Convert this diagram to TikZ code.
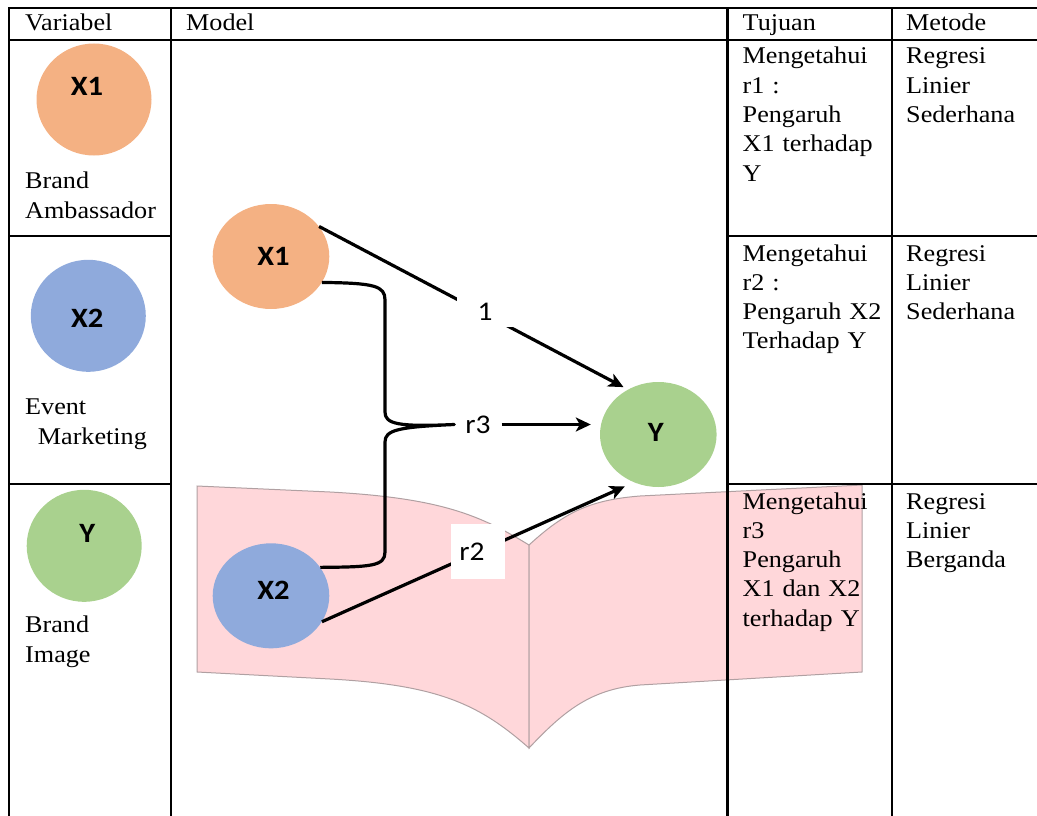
\documentclass[tikz,border=0pt]{standalone}
\usepackage{fontspec}
\setmainfont{Liberation Serif}[FakeStretch=1.09]
\newfontfamily\calib{Carlito}[FakeStretch=1.09]
\usetikzlibrary{shapes.geometric,arrows.meta}
\definecolor{orangeC}{HTML}{F4B183}
\definecolor{blueC}{HTML}{8FAADC}
\definecolor{greenC}{HTML}{A9D18E}
\definecolor{pinkC}{HTML}{FFD7DA}
\definecolor{pinkEdge}{HTML}{B0A0A2}
\begin{document}
\begin{tikzpicture}[x=1pt,y=-1pt,
  tbl/.style={line width=2.3pt, line cap=rect},
  circ/.style={ellipse, minimum width=116.6pt, minimum height=105pt, inner sep=0pt,
    font=\calib\bfseries\fontsize{28}{28}\selectfont},
  vcirc/.style={ellipse, minimum width=115pt, minimum height=112pt, inner sep=0pt},
  clab/.style={font=\calib\bfseries\fontsize{28}{28}\selectfont, inner sep=0pt},
  elab/.style={font=\calib\fontsize{27}{27}\selectfont, fill=white, inner sep=0pt},
  conn/.style={line width=3.2pt, -{Stealth[length=15pt,width=14pt,inset=4pt]}},
  bracestyle/.style={line width=3.2pt, line join=round},
  txt/.style={font=\fontsize{24}{29.3}\selectfont, anchor=base west, inner sep=0pt},
  mtxt/.style={txt, text width=160pt, align=left},
  vtxt/.style={font=\fontsize{24}{30}\selectfont, anchor=base west, inner sep=0pt, text width=150pt, align=left},
  panel/.style={fill=pinkC, draw=pinkEdge, line width=1pt, line join=miter},
]
\useasboundingbox (0,0) rectangle (1037,816);

% pink folded banner
\path[panel] (197,486) -- (330,492) .. controls (440,498) and (480,515) .. (529,545)
  -- (529,748) .. controls (480,705) and (440,685) .. (330,679) -- (197,672) -- cycle;
\path[panel] (529,545) .. controls (565,512) and (590,500) .. (640,496) -- (862,485)
  -- (862,672) -- (640,685) .. controls (590,689) and (563,712) .. (529,748) -- cycle;

% table lines
\draw[tbl] (8.7,816) -- (8.7,7.8) -- (1037,7.8);
\draw[tbl] (8.7,40) -- (1037,40);
\draw[tbl] (170.7,7.8) -- (170.7,816);
\draw[tbl] (727.5,7.8) -- (727.5,816);
\draw[tbl] (891.7,7.8) -- (891.7,816);
\draw[tbl] (8.7,235.8) -- (170.7,235.8);
\draw[tbl] (727.5,235.8) -- (1037,235.8);
\draw[tbl] (8.7,484) -- (170.7,484);
\draw[tbl] (727.5,484) -- (1037,484);

% header
\node[txt] (hVar) at (25,31) {Variabel};
\node[txt] (hMod) at (186,31) {Model};
\node[txt] (hTuj) at (742.5,31) {Tujuan};
\node[txt] (hMet) at (906,31) {Metode};

% Variabel column
\node[vcirc, fill=orangeC] (vX1) at (94,99.5) {};
\node[clab] (vX1t) at (87,86) {X1};
\node[vtxt] (vX1n) at (25,188) {Brand\\Ambassador};
\node[vcirc, fill=blueC] (vX2) at (88.3,315.8) {};
\node[clab] (vX2t) at (87.3,318) {X2};
\node[vtxt] (vX2n) at (25,414) {Event\\\hspace*{12.7pt}Marketing};
\node[vcirc, fill=greenC] (vY) at (84.2,545.8) {};
\node[clab] (vYt) at (87.3,533) {Y};
\node[vtxt] (vYn) at (25,632) {Brand\\Image};

% Model
\node[circ, fill=orangeC] (X1) at (271,256.5) {\hspace*{5pt}X1};
\node[circ, fill=blueC] (X2) at (271,595.8) {\hspace*{5pt}X2\rule[-10pt]{0pt}{10pt}};
\node[circ, fill=greenC] (Y) at (658.3,434.5) {Y\hspace*{5pt}\rule[-5pt]{0pt}{5pt}};

\node[elab, minimum width=47pt, minimum height=30pt] (r3) at (478,424.5) {r3};

\draw[conn, shorten >=5pt] (X1.32) -- (Y.124);
\node[elab, minimum width=56pt, minimum height=30pt] (r1) at (485,312) {1};

\draw[conn, shorten >=10pt] (X2.-27) -- (Y.243);
\node[elab, minimum width=54pt, minimum height=55pt] (r2) at (478,551.5) {r2\hspace*{12pt}};

\draw[conn, shorten >=9pt] (r3.east) -- (r3.east -| Y.west);

\draw[bracestyle] (X1.-27) .. controls (375,283) and (385,286) .. (385,300)
  -- (385,412) .. controls (385,424) and (398,427) .. (r3.west)
  .. controls (398,427) and (385,430) .. (385,442)
  -- (385,552) .. controls (385,566) and (372,567) .. (X2.30);

% Tujuan
\node[mtxt] (t1) at (742.5,64) {Mengetahui\\r1 :\\Pengaruh\\\makebox[134pt][s]{X1 terhadap}\\Y};
\node[mtxt] (t2) at (742.5,261) {Mengetahui\\r2 :\\Pengaruh X2\\Terhadap Y};
\node[mtxt] (t3) at (742.5,509) {Mengetahui\\r3\\Pengaruh\\\makebox[133pt][s]{X1 dan X2}\\terhadap Y};

% Metode
\node[mtxt] (m1) at (906,64) {Regresi\\Linier\\Sederhana};
\node[mtxt] (m2) at (906,261) {Regresi\\Linier\\Sederhana};
\node[mtxt] (m3) at (906,509) {Regresi\\Linier\\Berganda};
\end{tikzpicture}
\end{document}
